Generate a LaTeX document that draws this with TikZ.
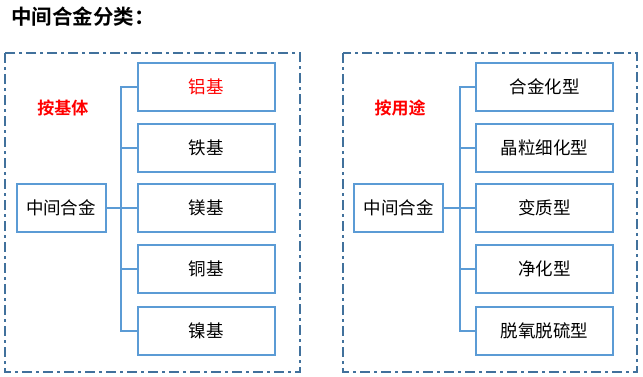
\documentclass[tikz,border=0pt]{standalone}
\usepackage{fontspec}
\newfontfamily\cjk{Noto Sans CJK SC}
\newfontfamily\cjkb{Noto Sans CJK SC Bold}
\definecolor{boxblue}{HTML}{5B9BD5}
\definecolor{frameblue}{HTML}{41719C}
\definecolor{lblred}{HTML}{FF0000}
\begin{document}
\begin{tikzpicture}[x=1pt,y=-1pt,
  leaf/.style={draw=boxblue,line width=2pt,minimum width=137pt,minimum height=48pt,inner sep=0pt,font=\cjk\fontsize{17.5}{20}\selectfont},
  root/.style={draw=boxblue,line width=2pt,minimum width=89pt,minimum height=48pt,inner sep=0pt,font=\cjk\fontsize{17.5}{20}\selectfont},
  frame/.style={draw=frameblue,line width=1.8pt,dash pattern=on 10pt off 4pt on 3pt off 4pt},
  conn/.style={draw=boxblue,line width=2pt},
  lbl/.style={text=lblred,font=\cjkb\fontsize{17}{20}\selectfont}]
\useasboundingbox (0,0) rectangle (643,376);
\fill[white] (0,0) rectangle (643,376);
\node[anchor=west,font=\cjkb\fontsize{20.5}{24}\selectfont,inner sep=0pt] (title) at (11,17) {中间合金分类：};
% frames
\draw[frame] (5,53) rectangle (300,372);
\draw[frame] (343,53) rectangle (637,372);
% left
\node[lbl] (lblA) at (63,108) {按基体};
\node[root] (rA) at (61,208) {中间合金};
\node[leaf,text=lblred] (a1) at (206,86.5) {铝基};
\node[leaf] (a2) at (206,147.5) {铁基};
\node[leaf] (a3) at (206,208) {镁基};
\node[leaf] (a4) at (206,268.5) {铜基};
\node[leaf] (a5) at (206,330.5) {镍基};
\coordinate (ta) at (121,208);
\draw[conn] (rA.east) -- (ta);
\draw[conn] (a1.west) -| (ta);
\draw[conn] (a5.west) -| (ta);
\foreach \n in {a2,a3,a4} \draw[conn] (\n.west) -- (\n.west -| ta);
% right
\node[lbl] (lblB) at (400,108) {按用途};
\node[root] (rB) at (398.5,208) {中间合金};
\node[leaf] (b1) at (544.5,86.5) {合金化型};
\node[leaf] (b2) at (544.5,147.5) {晶粒细化型};
\node[leaf] (b3) at (544.5,208) {变质型};
\node[leaf] (b4) at (544.5,268.5) {净化型};
\node[leaf] (b5) at (544.5,330.5) {脱氧脱硫型};
\coordinate (tb) at (460,208);
\draw[conn] (rB.east) -- (tb);
\draw[conn] (b1.west) -| (tb);
\draw[conn] (b5.west) -| (tb);
\foreach \n in {b2,b3,b4} \draw[conn] (\n.west) -- (\n.west -| tb);
\end{tikzpicture}
\end{document}
